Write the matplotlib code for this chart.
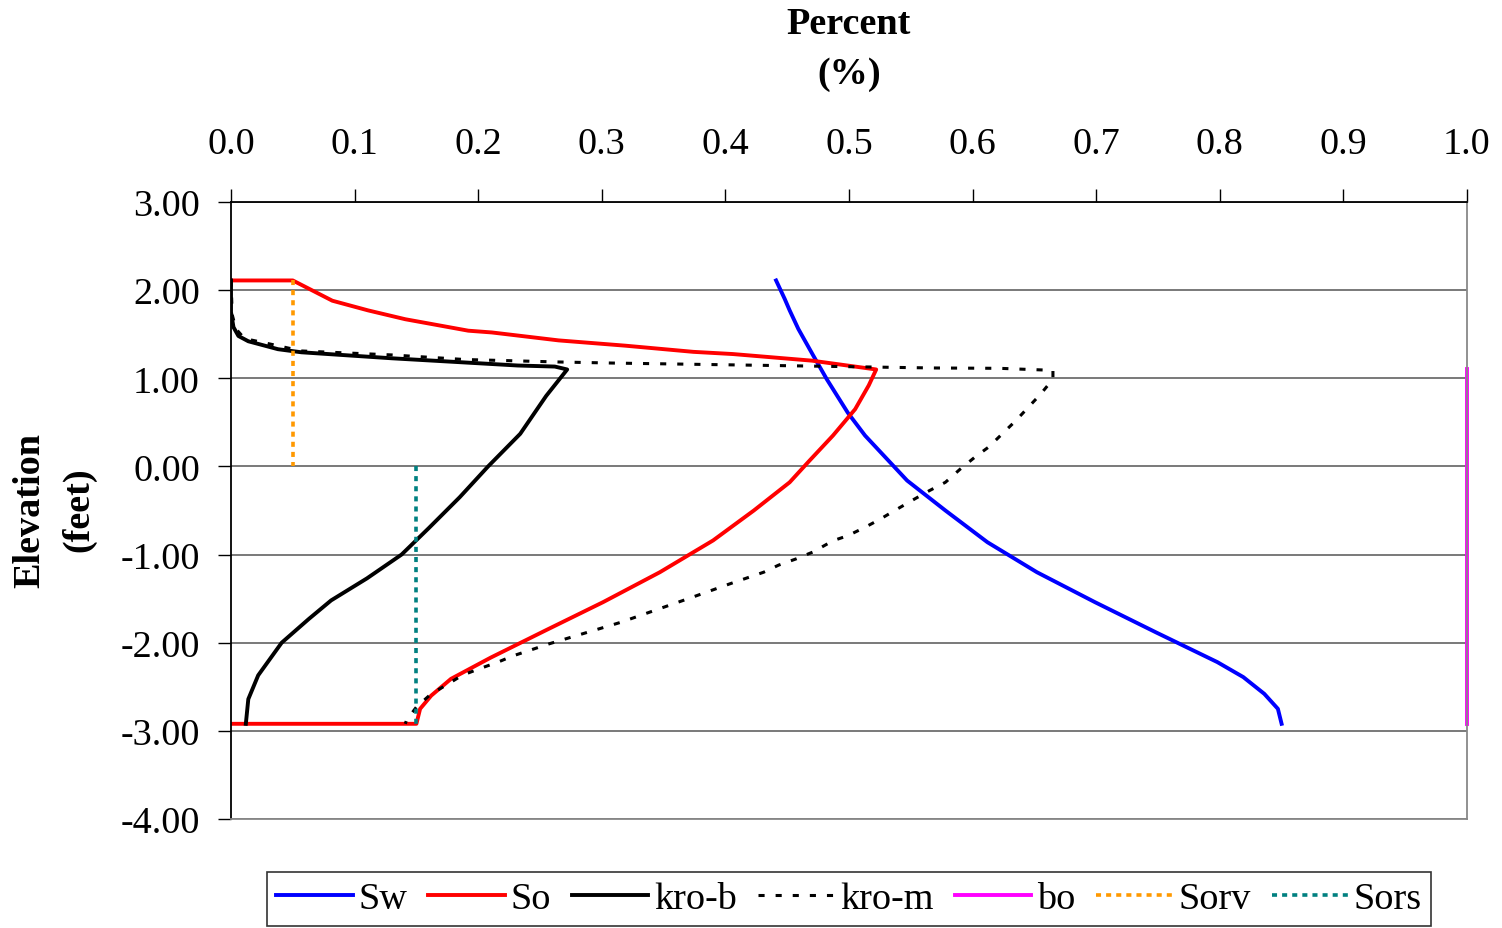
import matplotlib
matplotlib.use("Agg")
from matplotlib import pyplot as plt
import numpy as np

plt.rcParams['font.family'] = ['Liberation Serif', 'DejaVu Serif']

# data (x = fraction, y = elevation in feet)
sw_x = [0.441, 0.448, 0.452, 0.459, 0.471, 0.482, 0.499, 0.513, 0.547, 0.578,
        0.612, 0.652, 0.699, 0.748, 0.798, 0.819, 0.836, 0.847, 0.850]
sw_y = [2.11, 1.90, 1.77, 1.56, 1.26, 0.99, 0.61, 0.35, -0.16, -0.50,
        -0.86, -1.20, -1.54, -1.88, -2.22, -2.39, -2.58, -2.75, -2.92]

so_x = [0.0, 0.050, 0.082, 0.111, 0.141, 0.192, 0.211, 0.265, 0.319, 0.374,
        0.406, 0.470, 0.522, 0.516, 0.505, 0.487, 0.468, 0.452, 0.423, 0.390,
        0.347, 0.301, 0.256, 0.210, 0.178, 0.162, 0.153, 0.150, 0.0]
so_y = [2.11, 2.11, 1.88, 1.77, 1.67, 1.54, 1.52, 1.43, 1.37, 1.30,
        1.275, 1.20, 1.10, 0.92, 0.65, 0.35, 0.065, -0.18, -0.50, -0.84,
        -1.20, -1.54, -1.85, -2.17, -2.41, -2.60, -2.75, -2.92, -2.92]

krob_x = [0.0, 0.0, 0.002, 0.006, 0.014, 0.038, 0.057, 0.130, 0.232, 0.262,
          0.272, 0.255, 0.234, 0.208, 0.185, 0.160, 0.138, 0.110, 0.081, 0.063,
          0.041, 0.022, 0.014, 0.012]
krob_y = [2.11, 1.75, 1.58, 1.48, 1.42, 1.33, 1.295, 1.227, 1.145, 1.133,
          1.10, 0.80, 0.37, 0.0, -0.35, -0.70, -1.0, -1.27, -1.52, -1.73,
          -2.0, -2.37, -2.64, -2.92]

krom_x = [0.0, 0.001, 0.004, 0.011, 0.028, 0.057, 0.130, 0.189, 0.265, 0.308,
          0.439, 0.568, 0.622, 0.633, 0.665, 0.665, 0.655, 0.635, 0.624, 0.613,
          0.602, 0.590, 0.578, 0.565, 0.553, 0.537, 0.525, 0.513, 0.499, 0.487,
          0.471, 0.457, 0.443, 0.431, 0.404, 0.374, 0.315, 0.258, 0.228, 0.216,
          0.200, 0.187, 0.173, 0.162, 0.150, 0.142, 0.141]
krom_y = [2.11, 1.72, 1.56, 1.45, 1.40, 1.31, 1.265, 1.213, 1.185, 1.173,
          1.145, 1.117, 1.113, 1.107, 1.09, 0.99, 0.82, 0.52, 0.37, 0.22,
          0.107, -0.03, -0.18, -0.275, -0.37, -0.50, -0.60, -0.69, -0.786, -0.843,
          -0.97, -1.05, -1.12, -1.20, -1.33, -1.48, -1.77, -2.01, -2.15, -2.22,
          -2.30, -2.37, -2.49, -2.58, -2.73, -2.88, -2.92]

bo_x = [1.0, 1.0]
bo_y = [1.10, -2.92]

sorv_x = [0.05, 0.05]
sorv_y = [2.11, 0.0]

sors_x = [0.15, 0.15]
sors_y = [0.0, -2.92]

x_ticks = np.arange(0, 1.01, 0.1)
y_ticks = np.arange(-4, 3.01, 1.0)

fs = 27.5

fig = plt.figure(figsize=(15.02, 9.29), dpi=100)
ax = fig.add_axes([231 / 1502, 1 - 820 / 929, 1236 / 1502, 617 / 929])

ax.plot(sw_x, sw_y, color='#0000FF', lw=2.8, label='Sw')
ax.plot(so_x, so_y, color='#FF0000', lw=2.8, label='So')
ax.plot(krob_x, krob_y, color='black', lw=2.8, label='kro-b')
ax.plot(krom_x, krom_y, color='black', lw=2.2, linestyle=(0, (2.0, 3.6)), label='kro-m')
ax.plot(bo_x, bo_y, color='#FF00FF', lw=2.8, label='bo', clip_on=False)
ax.plot(sorv_x, sorv_y, color='#FF9900', lw=2.6, linestyle=(0, (1.4, 1.4)), label='Sorv')
ax.plot(sors_x, sors_y, color='#008080', lw=2.6, linestyle=(0, (1.4, 1.4)), label='Sors')

ax.set_xlim(0, 1)
ax.set_ylim(-4, 3)
ax.xaxis.tick_top()
ax.set_xticks(x_ticks)
ax.set_xticklabels(['%.1f' % v for v in x_ticks])
ax.set_yticks(y_ticks)
ax.set_yticklabels(['%.2f' % v for v in y_ticks])
ax.tick_params(axis='both', direction='out', length=9.4, width=1, labelsize=fs)
ax.tick_params(axis='x', pad=20)
ax.tick_params(axis='y', pad=13)

ax.grid(axis='y', color='#555555', lw=1.1)
ax.set_axisbelow(True)
ax.spines['left'].set_color('black')
ax.spines['top'].set_color('black')
ax.spines['right'].set_color('#888888')
ax.spines['bottom'].set_color('#888888')
for s in ax.spines.values():
    s.set_linewidth(1.3)

fig.text(849 / 1502, 1 - 25 / 929, 'Percent', ha='center', va='center',
         fontsize=fs, fontweight='bold')
fig.text(849 / 1502, 1 - 75 / 929, '(%)', ha='center', va='center',
         fontsize=fs, fontweight='bold')
fig.text(30 / 1502, 1 - 510 / 929, 'Elevation', ha='center', va='center',
         rotation=90, fontsize=fs, fontweight='bold')
fig.text(79 / 1502, 1 - 510 / 929, '(feet)', ha='center', va='center',
         rotation=90, fontsize=fs, fontweight='bold')

leg = fig.legend(loc='upper center', bbox_to_anchor=(849 / 1502, 1 - 873 / 929),
                 ncol=7, fontsize=fs, frameon=True, fancybox=False,
                 edgecolor='black', handlelength=2.0, handletextpad=0.15,
                 columnspacing=0.55, borderpad=0.25, borderaxespad=0)
leg.get_frame().set_linewidth(1.2)

fig.savefig('out.png', dpi=100)
